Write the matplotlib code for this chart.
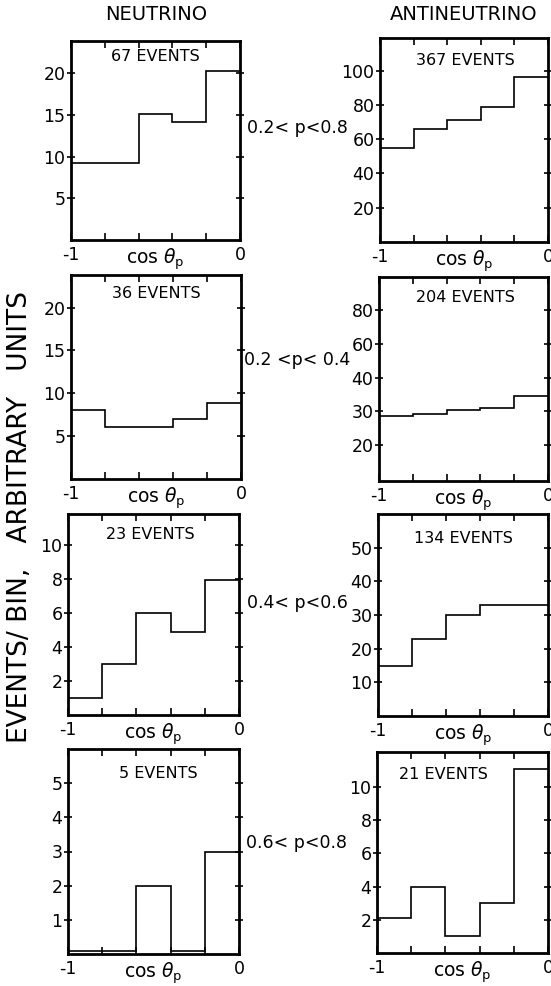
import numpy as np
import matplotlib
matplotlib.use("Agg")
import matplotlib.pyplot as plt

plt.rcParams['font.family'] = ['DejaVu Sans']
plt.rcParams['mathtext.fontset'] = 'dejavusans'

# ---------------- data ----------------
bin_edges = [-1.0, -0.8, -0.6, -0.4, -0.2, 0.0]

nu_p02_08 = [9.2, 9.2, 15.1, 14.2, 20.3]
anu_p02_08 = [55, 66, 71, 79, 96]
nu_p02_04 = [8.1, 6.1, 6.1, 7.0, 8.9]
anu_p02_04 = [28.6, 29.3, 30.3, 31.0, 34.6]
nu_p04_06 = [1.0, 3.0, 6.0, 4.9, 7.9]
anu_p04_06 = [15, 23, 30, 33, 33]
nu_p06_08 = [0.1, 0.1, 2.0, 0.1, 3.0]
anu_p06_08 = [2.1, 4.0, 1.0, 3.0, 11.1]

event_labels = ["67 EVENTS", "367 EVENTS", "36 EVENTS", "204 EVENTS",
                "23 EVENTS", "134 EVENTS", "5 EVENTS", "21 EVENTS"]
momentum_labels = ["0.2< p<0.8", "0.2 <p< 0.4", "0.4< p<0.6", "0.6< p<0.8"]
column_titles = ["NEUTRINO", "ANTINEUTRINO"]

yticks_list = [[5, 10, 15, 20], [20, 40, 60, 80, 100],
               [5, 10, 15, 20], [20, 30, 40, 60, 80],
               [2, 4, 6, 8, 10], [10, 20, 30, 40, 50],
               [1, 2, 3, 4, 5], [2, 4, 6, 8, 10]]
ytop_list = [23.9, 119, 23.8, 100, 11.8, 60, 6.0, 12.1]

# non-uniform vertical axis of the 0.2<p<0.4 antineutrino panel
p4_vals = [0, 20, 30, 40, 60, 80, 100]
p4_pos = [0, 1.08, 2.07, 3.07, 4.08, 5.09, 6.06]

series = [nu_p02_08, anu_p02_08, nu_p02_04, anu_p02_04,
          nu_p04_06, anu_p04_06, nu_p06_08, anu_p06_08]

# ---------------- layout ----------------
W, H = 551, 986
fig = plt.figure(figsize=(W / 100, H / 100), dpi=100)

# (left, right, top, bottom) in pixels
boxes = [(71, 240, 41, 240), (380, 548, 38, 242),
         (71, 241, 275, 479), (379, 548, 277, 481),
         (68, 239, 514, 715), (378, 548, 514, 716),
         (68, 239, 749, 954), (377, 548, 752, 953)]
ev_pos = [(0.50, 0.92), (0.51, 0.89), (0.50, 0.91), (0.51, 0.90),
          (0.48, 0.90), (0.50, 0.88), (0.53, 0.88), (0.39, 0.886)]

for i, (l, r, t, b) in enumerate(boxes):
    ax = fig.add_axes([l / W, 1 - b / H, (r - l) / W, (b - t) / H])
    if i == 3:
        fwd = lambda v: np.interp(v, p4_vals, p4_pos)
        inv = lambda p: np.interp(p, p4_pos, p4_vals)
        ax.set_yscale('function', functions=(fwd, inv))
    ax.stairs(series[i], bin_edges, baseline=None, color='black', lw=1.2)
    ax.set_xlim(-1, 0)
    ax.set_ylim(0, ytop_list[i])
    ax.set_yticks(yticks_list[i])
    ax.set_yticklabels([str(v) for v in yticks_list[i]])
    ax.yaxis.set_minor_locator(matplotlib.ticker.NullLocator())
    ax.set_xticks([-1, -0.8, -0.6, -0.4, -0.2, 0])
    ax.set_xticklabels(['-1', '', '', '', '', '0'])
    for s in ax.spines.values():
        s.set_linewidth(2.0)
    ax.tick_params(axis='y', which='major', left=True, right=True,
                   direction='inout', length=6, width=1.2,
                   labelsize=12.5, pad=1)
    ax.tick_params(axis='x', which='major', top=True, bottom=True,
                   direction='in', length=5, width=1.2,
                   labelsize=12.5, pad=4)
    ax.annotate(r'cos $\theta_{\mathrm{p}}$', xy=(0.5, 0), xycoords='axes fraction',
                xytext=(0, -5), textcoords='offset points',
                ha='center', va='top', fontsize=13.5)
    ax.text(ev_pos[i][0], ev_pos[i][1], event_labels[i], transform=ax.transAxes,
            ha='center', va='center', fontsize=11.5)

# column titles
fig.text(156 / W, 1 - 15 / H, column_titles[0], ha='center', va='center', fontsize=14)
fig.text(464 / W, 1 - 15 / H, column_titles[1], ha='center', va='center', fontsize=14)

# momentum ranges
for lab, y in zip(momentum_labels, [128, 360, 603, 843]):
    fig.text(297 / W, 1 - y / H, lab, ha='center', va='center', fontsize=12.5)

# common y label
fig.text(20 / W, 1 - 517 / H, "EVENTS/ BIN,   ARBITRARY   UNITS", rotation=90,
         ha='center', va='center', fontsize=19)

fig.savefig("out.png", dpi=100)
